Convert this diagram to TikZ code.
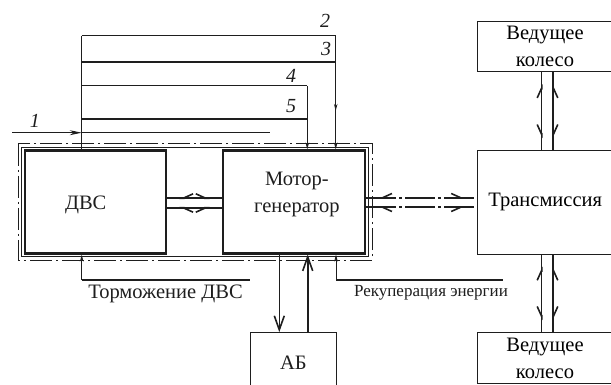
\documentclass[tikz,border=0pt]{standalone}
\usepackage{fontspec}
\setmainfont{Liberation Serif}
\usepackage{tikz}
\usetikzlibrary{arrows.meta,positioning,calc,decorations.markings}
\definecolor{ink}{HTML}{1E1E1E}
\tikzset{
  bigbox/.style={draw=ink,line width=2.4pt,minimum width=141pt,minimum height=102.6pt,
                 inner sep=0pt},
  box/.style={draw=ink,line width=1pt,align=center,inner sep=0pt,
              font=\fontsize{20.5}{27}\selectfont},
  boxtext/.style={align=center,font=\fontsize{20.5}{27}\selectfont,text=ink},
  num/.style={font=\fontsize{20}{22}\selectfont\itshape,text=ink,inner sep=0pt},
  lab/.style={font=\fontsize{20.5}{22}\selectfont,text=ink,inner sep=0pt},
  slab/.style={font=\fontsize{17}{18}\selectfont,text=ink,inner sep=0pt},
  fine/.style={draw=ink,line width=1pt},
  heavy/.style={draw=ink,line width=2.2pt},
  ar/.style={fine,-{Stealth[length=7pt,width=3.5pt]}},
  vee/.style={draw=ink,line width=1.6pt,-{Straight Barb[length=14pt,width=10pt,line width=1.6pt]}},
  barbL/.tip={Straight Barb[harpoon,length=10pt,width=9pt,line width=1.6pt]},
  barbR/.tip={Straight Barb[harpoon,swap,length=10pt,width=9pt,line width=1.6pt]},
  hpa/.style={postaction={decorate},decoration={markings,
      mark=at position 12pt with {\arrowreversed{barbR}},
      mark=at position -12pt with {\arrow{barbR}}}},
  hpb/.style={postaction={decorate},decoration={markings,
      mark=at position 12pt with {\arrowreversed{barbL}},
      mark=at position -12pt with {\arrow{barbL}}}},
  chain/.style={draw=ink,line width=1pt,dash pattern=on 22pt off 4pt on 2pt off 4pt},
  midar/.style={postaction={decorate},decoration={markings,
      mark=at position #1 with {\arrow{Stealth[length=7pt,width=3.5pt]}}}},
}
\begin{document}
\begin{tikzpicture}[x=1pt,y=-1pt]
  \useasboundingbox (0,0) rectangle (611,385);
  % frames round the hybrid unit
  \draw[chain] (18,144) rectangle (372,260);
  \draw[fine] (21.5,147.5) rectangle (368.5,256.5);
  % blocks
  \node[bigbox,label={[boxtext,xshift=-10pt,yshift=-3pt]center:ДВС}] (dvs) at (95.7,202) {};
  \node[bigbox,minimum width=142.3pt,label={[boxtext,xshift=3pt,yshift=8pt]center:Мотор-\\генератор}] (mg) at (293.9,202) {};
  \node[box,minimum width=135.5pt,minimum height=103.3pt] (tr) at (545.2,202.4) {Трансмиссия};
  \node[box,minimum width=136pt,minimum height=50pt] (wh1) at (545,46.7) {Ведущее\\колесо};
  \node[box,minimum width=136pt,minimum height=50.6pt] (wh2) at (545,358) {Ведущее\\колесо};
  \node[box,minimum width=85.3pt,minimum height=57.3pt,label={[boxtext,yshift=-1pt]center:АБ}] (ab) at (293.4,361.3) {};
  % control lines 1-5
  \coordinate (t2) at (81.7,36);    \coordinate (e2) at (335.7,36);
  \coordinate (t3) at (81.7,62.3);  \coordinate (e3) at (335.7,62.3);
  \coordinate (t4) at (81.7,86);    \coordinate (e4) at (307.3,86);
  \coordinate (t5) at (81.7,119);   \coordinate (e5) at (307.3,119);
  \coordinate (in1) at (12,132.7);  \coordinate (t1) at (81.7,132.7);
  \coordinate (e1) at (270,132.7);
  \draw[fine] (t2) -- (t2 |- dvs.north);
  \draw[fine] (t2) -- (e2);
  \draw[ar,midar=0.66] (e2) -- (e2 |- mg.north);
  \draw[heavy] (t3) -- (e3);
  \draw[fine] (t4) -- (e4);
  \draw[ar] (e4) -- (e4 |- mg.north);
  \draw[heavy] (t5) -- (e5);
  \draw[fine,-{Stealth[length=12pt,width=5pt]}] (in1) -- (t1);
  \draw[fine] (t1) -- (e1);
  \node[num] (n1) at (35,121) {1};
  \node[num] (n2) at (325,21) {2};
  \node[num] (n3) at (326,49) {3};
  \node[num] (n4) at (291,76) {4};
  \node[num] (n5) at (291,106) {5};
  % power flows
  \draw[heavy,hpb] ([yshift=3.7pt]dvs.east) -- ([yshift=3.7pt]mg.west);
  \draw[heavy,hpa] ([yshift=-5.7pt]dvs.east) -- ([yshift=-5.7pt]mg.west);
  \draw[heavy,hpb,dash pattern=on 30pt off 3pt on 3pt off 3pt] ([yshift=4pt]mg.east) -- ([yshift=4pt]mg.east -| tr.west);
  \draw[heavy,hpa,dash pattern=on 30pt off 3pt on 3pt off 3pt] ([yshift=-5pt]mg.east) -- ([yshift=-5pt]mg.east -| tr.west);
  \draw[fine,line width=1.4pt,hpa] ([xshift=-3.3pt]wh1.south) -- ([xshift=-3.3pt]wh1.south |- tr.north);
  \draw[heavy,hpb] ([xshift=8.3pt]wh1.south) -- ([xshift=8.3pt]wh1.south |- tr.north);
  \draw[fine,line width=1.4pt,hpa] ([xshift=-3.3pt]tr.south -| wh2.north) -- ([xshift=-3.3pt]wh2.north);
  \draw[heavy,hpb] ([xshift=8.3pt]tr.south -| wh2.north) -- ([xshift=8.3pt]wh2.north);
  \draw[vee] ([xshift=-14.6pt]mg.south) -- ([xshift=-14.6pt]mg.south |- ab.north);
  \draw[vee] ([xshift=13.8pt]mg.south |- ab.north) -- ([xshift=13.8pt]mg.south);
  % braking and recuperation
  \coordinate (tb) at (81.7,280);  \coordinate (tbEnd) at (250,280);
  \coordinate (rc) at (336,280);   \coordinate (rcEnd) at (503,280);
  \draw[ar] (tb) -- (tb |- dvs.south);
  \draw[heavy] (tb) -- (tbEnd);
  \draw[ar] (rc) -- (rc |- mg.south);
  \draw[heavy] (rc) -- (rcEnd);
  \node[lab] (tlab) at (165.5,294) {Торможение ДВС};
  \node[slab] (rlab) at (431,293) {Рекуперация энергии};
\end{tikzpicture}
\end{document}
